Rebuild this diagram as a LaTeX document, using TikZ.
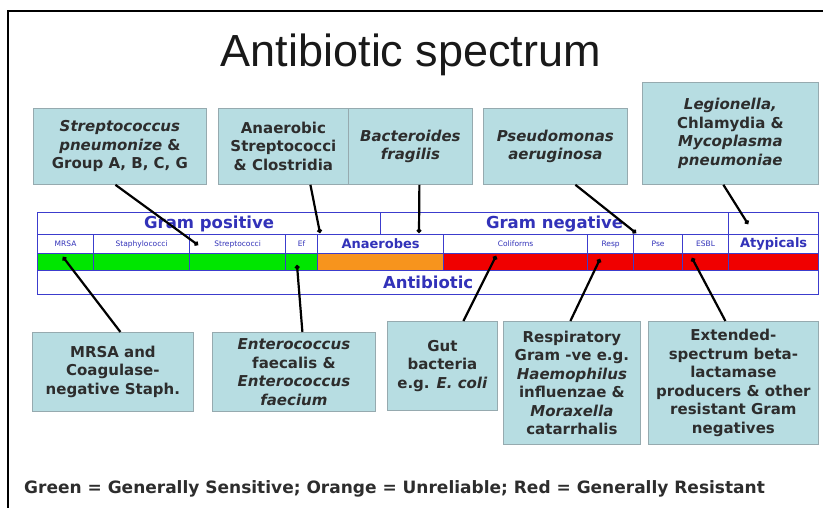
\documentclass[tikz,border=0pt]{standalone}
\usepackage{fontspec}
\setmainfont{DejaVu Sans}
\newfontfamily\titlefont{Liberation Sans}
\usetikzlibrary{arrows.meta}
\definecolor{boxfill}{RGB}{183,221,226}
\definecolor{boxline}{RGB}{150,170,175}
\definecolor{tblue}{RGB}{60,60,205}
\definecolor{ttext}{RGB}{50,50,185}
\definecolor{cgreen}{RGB}{0,230,0}
\definecolor{corange}{RGB}{247,148,29}
\definecolor{cred}{RGB}{240,0,0}
\definecolor{btext}{RGB}{45,45,45}
\begin{document}
\begin{tikzpicture}[x=1pt,y=-1pt,
  cbox/.style={draw=boxline, fill=boxfill, line width=0.8pt, align=center,
    anchor=north west, inner sep=0pt, text=btext,
    font=\fontsize{15}{18.5}\selectfont\bfseries},
  cell/.style={draw=tblue, line width=1.2pt, anchor=north west, inner sep=0pt, text=ttext},
  bigl/.style={font=\fontsize{16.5}{18}\selectfont\bfseries},
  midl/.style={font=\fontsize{13}{14}\selectfont\bfseries},
  tinyl/.style={font=\fontsize{7.5}{8}\selectfont},
  conn/.style={line width=2.2pt, black, -{Circle[length=4.5pt]}}
]
\useasboundingbox (0,0) rectangle (823,508);
\fill[white] (0,0) rectangle (823,508);
% frame
\draw[line width=2pt] (8,508) -- (8,11) -- (823,11);
% title
\node[anchor=base, font=\titlefont\fontsize{45}{50}\selectfont, text={rgb,255:red,25;green,25;blue,25}] (title) at (411,67) {Antibiotic spectrum};

% table row 1
\node[cell, bigl, minimum width=343pt, minimum height=22pt] (gp) at (37,212) {Gram positive};
\node[cell, bigl, minimum width=348pt, minimum height=22pt] (gn) at (380,212) {Gram negative};
\node[cell, minimum width=90pt, minimum height=22pt] (ga) at (728,212) {};
% row 2
\node[cell, tinyl, minimum width=56pt, minimum height=19pt] (mrsa) at (37,234) {MRSA};
\node[cell, tinyl, minimum width=96pt, minimum height=19pt] (staph) at (93,234) {Staphylococci};
\node[cell, tinyl, minimum width=96pt, minimum height=19pt] (strep) at (189,234) {Streptococci};
\node[cell, tinyl, minimum width=32pt, minimum height=19pt] (ef) at (285,234) {Ef};
\node[cell, midl, minimum width=126pt, minimum height=19pt] (anae) at (317,234) {Anaerobes};
\node[cell, tinyl, minimum width=144pt, minimum height=19pt] (coli) at (443,234) {Coliforms};
\node[cell, tinyl, minimum width=46pt, minimum height=19pt] (resp) at (587,234) {Resp};
\node[cell, tinyl, minimum width=49pt, minimum height=19pt] (pse) at (633,234) {Pse};
\node[cell, tinyl, minimum width=46pt, minimum height=19pt] (esbl) at (682,234) {ESBL};
\node[cell, midl, minimum width=90pt, minimum height=19pt] (atyp) at (728,234) {Atypicals};
% row 3 colours
\node[cell, fill=cgreen, minimum width=56pt, minimum height=17pt] (k1) at (37,253) {};
\node[cell, fill=cgreen, minimum width=96pt, minimum height=17pt] (k2) at (93,253) {};
\node[cell, fill=cgreen, minimum width=96pt, minimum height=17pt] (k3) at (189,253) {};
\node[cell, fill=cgreen, minimum width=32pt, minimum height=17pt] (k4) at (285,253) {};
\node[cell, fill=corange, minimum width=126pt, minimum height=17pt] (k5) at (317,253) {};
\node[cell, fill=cred, minimum width=144pt, minimum height=17pt] (k6) at (443,253) {};
\node[cell, fill=cred, minimum width=46pt, minimum height=17pt] (k7) at (587,253) {};
\node[cell, fill=cred, minimum width=49pt, minimum height=17pt] (k8) at (633,253) {};
\node[cell, fill=cred, minimum width=46pt, minimum height=17pt] (k9) at (682,253) {};
\node[cell, fill=cred, minimum width=90pt, minimum height=17pt] (k10) at (728,253) {};
% row 4
\node[cell, bigl, minimum width=781pt, minimum height=24pt] (anti) at (37,270) {Antibiotic};

% callout boxes top
\node[cbox, minimum width=173pt, minimum height=76pt] (b1) at (33,108) {\textit{Streptococcus}\\\textit{pneumonize} \&\\Group A, B, C, G};
\node[cbox, minimum width=130pt, minimum height=76pt] (b2) at (218,108) {Anaerobic\\Streptococci\\\& Clostridia};
\node[cbox, minimum width=124pt, minimum height=76pt] (b3) at (348,108) {\textit{Bacteroides}\\\textit{fragilis}};
\node[cbox, minimum width=144pt, minimum height=76pt] (b4) at (483,108) {\textit{Pseudomonas}\\\textit{aeruginosa}};
\node[cbox, minimum width=176pt, minimum height=102pt] (b5) at (642,82) {\textit{Legionella,}\\Chlamydia \&\\\textit{Mycoplasma}\\\textit{pneumoniae}};
% callout boxes bottom
\node[cbox, minimum width=161pt, minimum height=79pt] (b6) at (32,332) {MRSA and\\Coagulase-\\negative Staph.};
\node[cbox, minimum width=163pt, minimum height=79pt] (b7) at (212,332) {\textit{Enterococcus}\\faecalis \&\\\textit{Enterococcus}\\\textit{faecium}};
\node[cbox, minimum width=110pt, minimum height=89pt] (b8) at (387,321) {Gut\\bacteria\\e.g. \textit{E. coli}};
\node[cbox, minimum width=137pt, minimum height=123pt] (b9) at (503,321) {Respiratory\\Gram -ve e.g.\\\textit{Haemophilus}\\influenzae \&\\\textit{Moraxella}\\catarrhalis};
\node[cbox, minimum width=170pt, minimum height=123pt] (b10) at (648,321) {Extended-\\spectrum beta-\\lactamase\\producers \& other\\resistant Gram\\negatives};

% connector end points
\coordinate (e1) at (198,245);
\coordinate (e2) at (320,233);
\coordinate (e3) at (419,233);
\coordinate (e4) at (636,233);
\coordinate (e5) at (748,224);
\coordinate (e6) at (63,257);
\coordinate (e7) at (297,265);
\coordinate (e8) at (496,256);
\coordinate (e9) at (600,259);
\coordinate (e10) at (692,258);
\draw[conn] ([xshift=-4.5pt]b1.south) -- (e1);
\draw[conn] ([xshift=27pt]b2.south) -- (e2);
\draw[conn] ([xshift=9pt]b3.south) -- (e3);
\draw[conn] ([xshift=20pt]b4.south) -- (e4);
\draw[conn] ([xshift=-7pt]b5.south) -- (e5);
\draw[conn] ([xshift=7.5pt]b6.north) -- (e6);
\draw[conn] ([xshift=8.5pt]b7.north) -- (e7);
\draw[conn] ([xshift=21pt]b8.north) -- (e8);
\draw[conn] ([xshift=-1.5pt]b9.north) -- (e9);
\draw[conn] ([xshift=-8pt]b10.north) -- (e10);

% legend
\node[anchor=base west, font=\fontsize{17}{19}\selectfont\bfseries, text=btext, inner sep=0pt] (legend) at (24,493) {Green = Generally Sensitive; Orange = Unreliable; Red = Generally Resistant};
\end{tikzpicture}
\end{document}
